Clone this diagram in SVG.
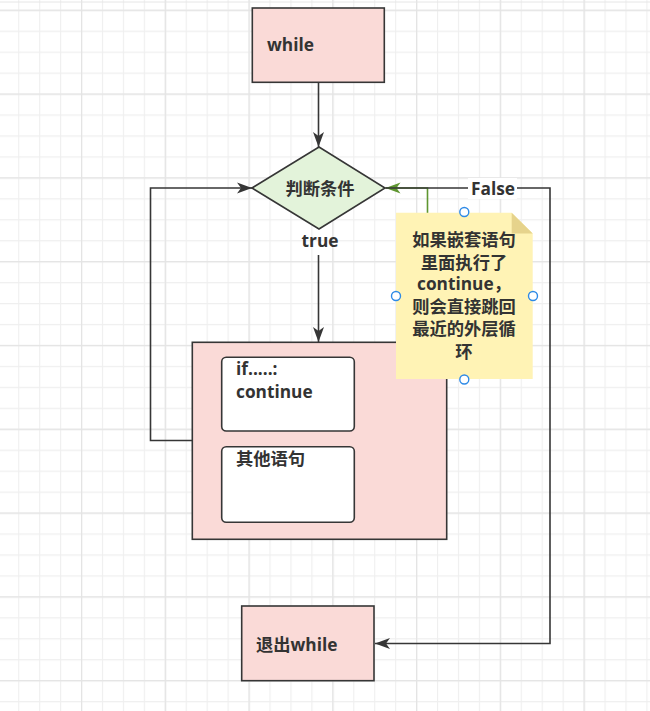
<svg xmlns="http://www.w3.org/2000/svg" width="650" height="711" viewBox="0 0 650 711">
  <style>
    .box { fill: #fadad7; stroke: #363636; stroke-width: 1.6; }
    .inner { fill: #ffffff; stroke: #363636; stroke-width: 1.6; }
    .cond { fill: #e3f3da; stroke: #363636; stroke-width: 1.6; }
    .edge { fill: none; stroke: #363636; stroke-width: 1.6; }
    .edge-green { fill: none; stroke: #5f9630; stroke-width: 1.6; }
    .t { font-family: "Open Sans", "Noto Sans CJK SC", sans-serif; font-weight: 700; font-size: 17.3px; fill: #333333; }
    .mid { text-anchor: middle; }
    .handle { fill: #ffffff; stroke: #2e8ae6; stroke-width: 1.4; }
  </style>
  <defs>
    <pattern id="gridMinor" patternUnits="userSpaceOnUse" x="-2.76" y="9.7" width="20.94" height="20.95">
      <path d="M0.5 0V20.95M0 0.5H20.94" stroke="#efefef" stroke-width="1.3" fill="none"/>
    </pattern>
    <pattern id="gridMajor" patternUnits="userSpaceOnUse" x="-2.76" y="9.7" width="83.76" height="83.8">
      <path d="M0.5 0V83.8M0 0.5H83.76" stroke="#e4e4e4" stroke-width="1.5" fill="none"/>
    </pattern>
    <marker id="arrow" markerUnits="userSpaceOnUse" markerWidth="18" markerHeight="14" refX="15" refY="7" orient="auto">
      <path d="M0 1.5 L15 7 L0 12.5 L4 7 Z" fill="#363636"/>
    </marker>
    <marker id="arrowGreen" markerUnits="userSpaceOnUse" markerWidth="18" markerHeight="14" refX="15" refY="7" orient="auto">
      <path d="M0 1.5 L15 7 L0 12.5 L4 7 Z" fill="#5f9630"/>
    </marker>
  </defs>

  <!-- canvas grid -->
  <rect width="650" height="711" fill="#ffffff"/>
  <rect width="650" height="711" fill="url(#gridMinor)"/>
  <rect width="650" height="711" fill="url(#gridMajor)"/>
  <line x1="0" y1="2" x2="650" y2="2" stroke="#e6e6e6" stroke-width="1"/>

  <!-- connectors -->
  <g id="connectors">
    <path class="edge" d="M318.5 82 V147" marker-end="url(#arrow)"/>
    <path class="edge" d="M318.5 255 V342" marker-end="url(#arrow)"/>
    <path class="edge" d="M192 440.5 H150.5 V188 H252" marker-end="url(#arrow)"/>
    <path class="edge-green" d="M354 395.5 H427.5 V188 H385.5" marker-end="url(#arrowGreen)"/>
    <path class="edge" d="M385.5 188 H550 V643.5 H375" marker-end="url(#arrow)"/>
    <g id="label-false">
      <rect x="468" y="178" width="49" height="21" fill="#ffffff"/>
      <text class="t mid" x="493" y="195">False</text>
    </g>
    <text class="t mid" x="320" y="247">true</text>
  </g>

  <!-- nodes -->
  <g id="node-while">
    <rect class="box" x="252.3" y="8" width="132" height="74.3"/>
    <text class="t" x="267" y="51">while</text>
  </g>

  <g id="node-condition">
    <polygon class="cond" points="252,188 319,147 385,188 319,229"/>
    <text class="t mid" x="320" y="195">判断条件</text>
  </g>

  <g id="node-body">
    <rect class="box" x="192.3" y="342.3" width="254.4" height="197"/>
  </g>

  <g id="node-if-continue">
    <rect class="inner" x="221.7" y="357.3" width="132.6" height="73.7" rx="4.5"/>
    <text class="t" x="236" y="375">if.....:</text>
    <text class="t" x="236" y="398">continue</text>
  </g>

  <g id="node-other">
    <rect class="inner" x="221.7" y="446.7" width="132.6" height="75.6" rx="4.5"/>
    <text class="t" x="236" y="465">其他语句</text>
  </g>

  <g id="node-exit">
    <rect class="box" x="241.7" y="606" width="132.3" height="74.7"/>
    <text class="t" x="256" y="651">退出while</text>
  </g>

  <g id="node-note">
    <path d="M396 212.7 H511.7 L532.7 233.5 V379 H396 Z" fill="#fff3b5"/>
    <path d="M511.7 212.7 L532.7 233.5 H511.7 Z" fill="#e6d38c"/>
    <text class="t mid" x="464" y="246">如果嵌套语句</text>
    <text class="t mid" x="464" y="269">里面执行了</text>
    <text class="t mid" x="464" y="290">continue，</text>
    <text class="t mid" x="464" y="313">则会直接跳回</text>
    <text class="t mid" x="464" y="335">最近的外层循</text>
    <text class="t mid" x="464" y="358">环</text>
    <circle class="handle" cx="464.3" cy="212" r="4.5"/>
    <circle class="handle" cx="396" cy="296" r="4.5"/>
    <circle class="handle" cx="533" cy="296" r="4.5"/>
    <circle class="handle" cx="464.3" cy="379.5" r="4.5"/>
  </g>
</svg>
